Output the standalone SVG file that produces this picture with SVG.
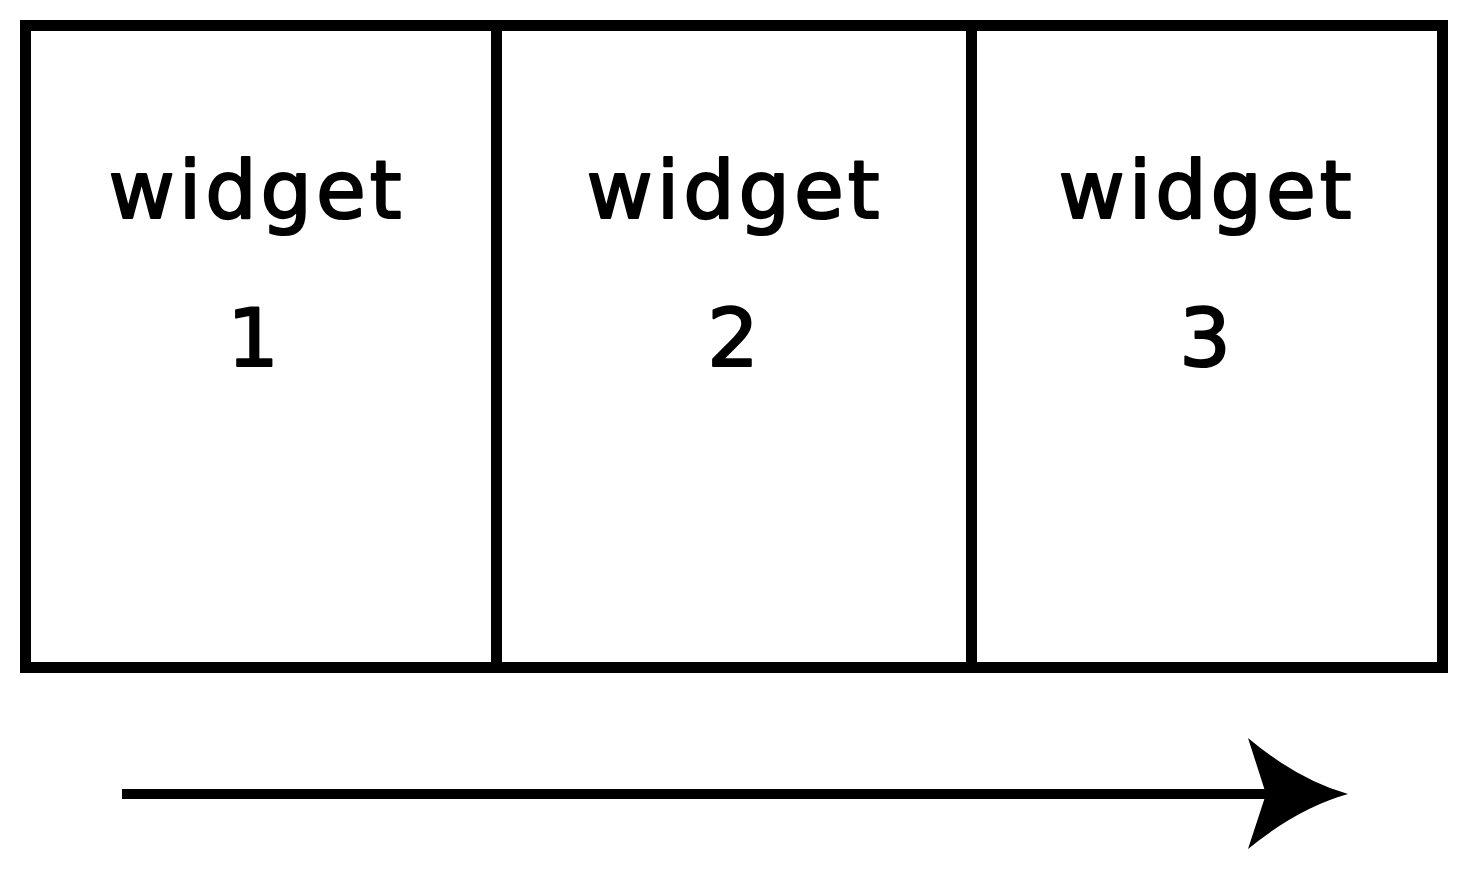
<svg xmlns="http://www.w3.org/2000/svg" width="1469" height="870" viewBox="0 0 1469 870">
<style>
.box{fill:#fff;stroke:#000;stroke-width:11}
.lbl{font-family:"DejaVu Sans",sans-serif;font-size:81px;letter-spacing:4px;fill:#000;stroke:#000;stroke-width:2.2px;stroke-linejoin:round;text-anchor:middle}
.conn{fill:none;stroke:#000;stroke-width:10}
</style>
<defs>
<marker id="ah" markerUnits="userSpaceOnUse" markerWidth="110" markerHeight="120" refX="22" refY="56" orient="auto" viewBox="0 0 110 120">
<path d="M100,56 Q50,70 0,111 L18,56 L0,0 Q50,42 100,56 Z" fill="#000"/>
</marker>
</defs>
<rect x="0" y="0" width="1469" height="870" fill="#fff"/>
<g id="widget1">
<rect class="box" x="25.5" y="25.5" width="471" height="642"/>
<text class="lbl" x="257" y="218">widget</text>
<text class="lbl" x="255" y="366">1</text>
</g>
<g id="widget2">
<rect class="box" x="496.5" y="25.5" width="475" height="642"/>
<text class="lbl" x="735" y="218">widget</text>
<text class="lbl" x="735" y="366">2</text>
</g>
<g id="widget3">
<rect class="box" x="971.5" y="25.5" width="471" height="642"/>
<text class="lbl" x="1207" y="218">widget</text>
<text class="lbl" x="1207" y="366">3</text>
</g>
<g id="connectors">
<path class="conn" d="M122,794 L1270,794" marker-end="url(#ah)"/>
</g>
</svg>
